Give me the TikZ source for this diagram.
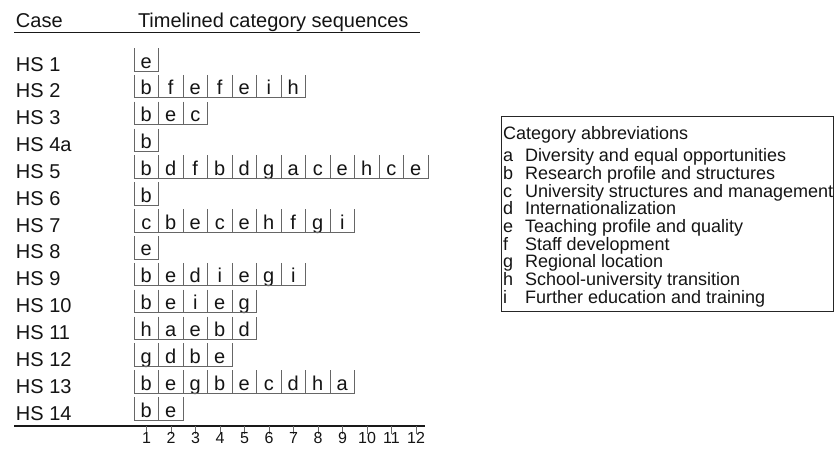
\documentclass[tikz,border=0pt]{standalone}
\usepackage{fontspec}
\setmainfont{Liberation Sans}
\begin{document}
\begin{tikzpicture}[x=1pt,y=-1pt,
  txt/.style={text=black!92, inner sep=0pt, outer sep=0pt},
  rowlab/.style={txt, anchor=base west, font=\fontsize{20}{24}\selectfont},
  head/.style={txt, anchor=base west, font=\fontsize{20}{24}\selectfont},
  cellbox/.style={txt, anchor=base, minimum width=24.5pt, text height=20pt, text depth=3pt, font=\fontsize{20}{22}\selectfont},
  cellline/.style={draw=black!60, line width=0.8pt},
  rule/.style={draw=black!90, line width=1.8pt},
  ticklab/.style={txt, anchor=base, font=\fontsize{16}{18}\selectfont},
  legtitle/.style={txt, anchor=base west, font=\fontsize{18}{20}\selectfont},
  legitem/.style={txt, anchor=base west, font=\fontsize{18}{20}\selectfont},
  legbox/.style={draw=black!85, line width=1.4pt, anchor=north west, inner sep=0pt, minimum width=332pt, minimum height=195pt}
]
\useasboundingbox (0,0) rectangle (835,450);
% header
\node[head] (hcase) at (16,27.3) {Case};
\node[head] (hseq) at (138,27.3) {Timelined category sequences};
\coordinate (hl) at (14,32.5);
\coordinate (hr) at (420,32.5);
\draw[rule] (hl) -- (hr);
% rows
\foreach \lab/\seq [count=\r] in {
  HS 1/{e},
  HS 2/{b,f,e,f,e,i,h},
  HS 3/{b,e,c},
  HS 4a/{b},
  HS 5/{b,d,f,b,d,g,a,c,e,h,c,e},
  HS 6/{b},
  HS 7/{c,b,e,c,e,h,f,g,i},
  HS 8/{e},
  HS 9/{b,e,d,i,e,g,i},
  HS 10/{b,e,i,e,g},
  HS 11/{h,a,e,b,d},
  HS 12/{g,d,b,e},
  HS 13/{b,e,g,b,e,c,d,h,a},
  HS 14/{b,e}} {
  \pgfmathsetmacro\by{71+26.85*(\r-1)}
  \node[rowlab] (l\r) at (16,\by) {\lab};
  \foreach \ch [count=\i] in \seq {
    \node[cellbox] (c\r-\i) at ({134+24.5*(\i-0.5)},{\by-3}) {\ch};
    \draw[cellline] (c\r-\i.north west) -- (c\r-\i.south west) -- (c\r-\i.south east) -- (c\r-\i.north east);
  }
}
% axis
\coordinate (al) at (14,426);
\coordinate (ar) at (425,426);
\draw[rule] (al) -- (ar);
\foreach \k in {1,...,12} {
  \coordinate (t\k) at ({146.5+24.5*(\k-1)},426);
  \draw[cellline] (t\k) -- ++(0,7.5);
  \node[ticklab] (n\k) at ({146.5+24.5*(\k-1)},443.5) {\k};
}
% legend
\node[legbox] (leg) at (501,116) {};
\node[legtitle] (legt) at (503,139.3) {Category abbreviations};
\foreach \a/\d [count=\k] in {
  a/Diversity and equal opportunities,
  b/Research profile and structures,
  c/University structures and management,
  d/Internationalization,
  e/Teaching profile and quality,
  f/Staff development,
  g/Regional location,
  h/School-university transition,
  i/Further education and training} {
  \pgfmathsetmacro\ly{161.7+17.7*(\k-1)}
  \node[legitem] (la\k) at (503,\ly) {\a};
  \node[legitem] (ld\k) at (525,\ly) {\d};
}
\end{tikzpicture}
\end{document}
